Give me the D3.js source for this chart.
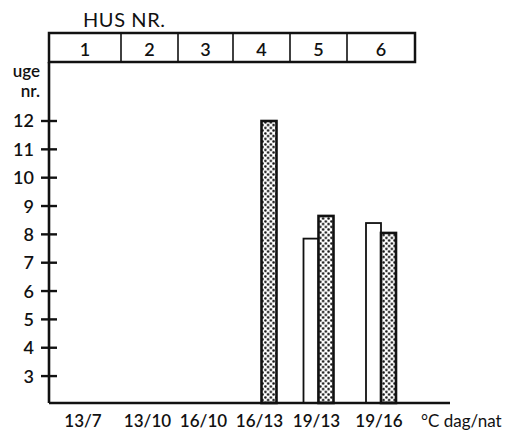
<!DOCTYPE html>
<html>
<head>
<meta charset="utf-8">
<script src="https://cdn.jsdelivr.net/npm/d3@7"></script>
<style>
  body { margin: 0; background: #fff; }
  svg { display: block; }
  text { font-family: Lato, "Open Sans", sans-serif; font-weight: 600; fill: #111; }
</style>
</head>
<body>
<svg id="chart"></svg>
<script>
const w = 529, h = 431;

// data
const houses = ['1', '2', '3', '4', '5', '6'];
const temps = ['13/7', '13/10', '16/10', '16/13', '19/13', '19/16'];
const weeksOpen = [null, null, null, null, 7.85, 8.4];
const weeksDotted = [null, null, null, 12, 8.65, 8.05];
const yTicks = [3, 4, 5, 6, 7, 8, 9, 10, 11, 12];

// layout
const colEdges = [49, 121, 178, 233, 290, 347, 415];
const barW = 15;
const headTop = 33, headBot = 62;
const axisEnd = 450;

var svg = d3.select('#chart')
  .attr('width', w)
  .attr('height', h);

var defs = svg.append('defs');
var pat = defs.append('pattern')
  .attr('id', 'dots')
  .attr('width', 5.5)
  .attr('height', 5.5)
  .attr('patternUnits', 'userSpaceOnUse');
pat.append('rect').attr('width', 5.5).attr('height', 5.5).attr('fill', '#fff');
pat.append('circle').attr('cx', 1.4).attr('cy', 1.4).attr('r', 1.25).attr('fill', '#111');
pat.append('circle').attr('cx', 4.1).attr('cy', 4.1).attr('r', 1.25).attr('fill', '#111');

// x: piecewise scale over house columns
var x = d3.scaleLinear()
  .domain(d3.range(colEdges.length))
  .range(colEdges);
var colCenter = function(i) { return (x(i) + x(i + 1)) / 2; };

var y = d3.scaleLinear()
  .domain([2.05, 12])
  .range([403, 121]);

// header box
svg.append('text')
  .attr('x', 83)
  .attr('y', 27)
  .style('font-size', '20px')
  .style('letter-spacing', '0.6px')
  .style('font-weight', 'normal')
  .text('HUS NR.');

svg.append('rect')
  .attr('x', x(0))
  .attr('y', headTop)
  .attr('width', x(6) - x(0))
  .attr('height', headBot - headTop)
  .attr('fill', 'none')
  .attr('stroke', '#111')
  .attr('stroke-width', 2.5);

svg.selectAll('line.div')
  .data(d3.range(1, 6))
  .enter()
  .append('line')
  .attr('class', 'div')
  .attr('x1', function(d) { return x(d); })
  .attr('x2', function(d) { return x(d); })
  .attr('y1', headTop)
  .attr('y2', headBot)
  .attr('stroke', '#111')
  .attr('stroke-width', 1.6);

svg.selectAll('text.house')
  .data(houses)
  .enter()
  .append('text')
  .attr('class', 'house')
  .attr('x', function(d, i) { return colCenter(i); })
  .attr('y', 56)
  .attr('text-anchor', 'middle')
  .style('font-size', '18px')
  .text(function(d) { return d; });

// bars
var bars = svg.append('g');
bars.selectAll('rect.open')
  .data(weeksOpen)
  .enter()
  .filter(function(d) { return d != null; })
  .append('rect')
  .attr('class', 'open')
  .attr('x', function(d) { return colCenter(weeksOpen.indexOf(d)) - barW; })
  .attr('y', function(d) { return y(d); })
  .attr('width', barW)
  .attr('height', function(d) { return y.range()[0] - y(d); })
  .attr('fill', '#fff')
  .attr('stroke', '#111')
  .attr('stroke-width', 1.8);

bars.selectAll('rect.dotted')
  .data(weeksDotted)
  .enter()
  .filter(function(d) { return d != null; })
  .append('rect')
  .attr('class', 'dotted')
  .attr('x', function(d) { return colCenter(weeksDotted.indexOf(d)); })
  .attr('y', function(d) { return y(d); })
  .attr('width', barW)
  .attr('height', function(d) { return y.range()[0] - y(d); })
  .attr('fill', 'url(#dots)')
  .attr('stroke', '#111')
  .attr('stroke-width', 2.6);

// axes
svg.append('line')
  .attr('x1', x(0)).attr('x2', x(0))
  .attr('y1', headBot).attr('y2', y.range()[0])
  .attr('stroke', '#111').attr('stroke-width', 2.6);
svg.append('line')
  .attr('x1', x(0)).attr('x2', axisEnd)
  .attr('y1', y.range()[0]).attr('y2', y.range()[0])
  .attr('stroke', '#111').attr('stroke-width', 2.6);

svg.selectAll('line.tick')
  .data(yTicks)
  .enter()
  .append('line')
  .attr('class', 'tick')
  .attr('x1', x(0) - 8).attr('x2', x(0) + 8)
  .attr('y1', function(d) { return y(d); })
  .attr('y2', function(d) { return y(d); })
  .attr('stroke', '#111')
  .attr('stroke-width', 2.4);

svg.selectAll('text.ytick')
  .data(yTicks)
  .enter()
  .append('text')
  .attr('class', 'ytick')
  .attr('x', 34)
  .attr('y', function(d) { return y(d); })
  .attr('dy', '0.36em')
  .attr('text-anchor', 'end')
  .style('font-size', '18px')
  .text(function(d) { return d; });

svg.append('text')
  .attr('x', 40).attr('y', 77)
  .attr('text-anchor', 'end')
  .style('font-size', '17px')
  .text('uge');
svg.append('text')
  .attr('x', 40).attr('y', 97)
  .attr('text-anchor', 'end')
  .style('font-size', '17px')
  .text('nr.');

// temperature labels under each house
svg.selectAll('text.temp')
  .data(temps)
  .enter()
  .append('text')
  .attr('class', 'temp')
  .attr('x', function(d, i) { return colCenter(i) - 2; })
  .attr('y', 427)
  .attr('text-anchor', 'middle')
  .style('font-size', '17px')
  .text(function(d) { return d; });

svg.append('text')
  .attr('x', 421).attr('y', 427)
  .style('font-size', '17px')
  .style('font-weight', 'normal')
  .text('°C dag/nat');
</script>
</body>
</html>
